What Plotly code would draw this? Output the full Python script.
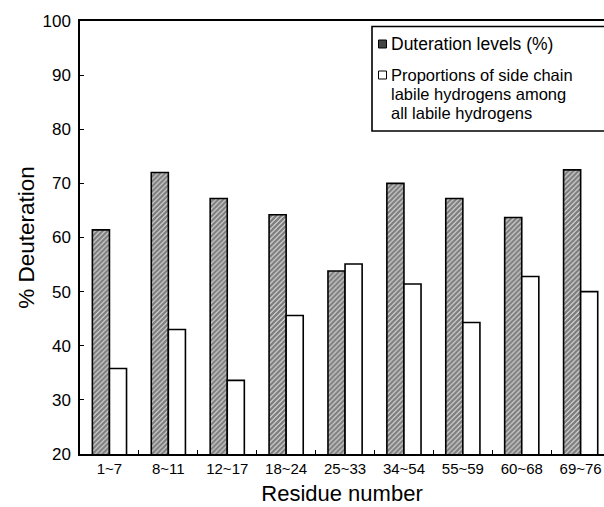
import plotly.graph_objects as go

categories = ["1~7", "8~11", "12~17", "18~24", "25~33", "34~54", "55~59", "60~68", "69~76"]
deuteration = [61.4, 72.0, 67.2, 64.2, 53.8, 70.0, 67.2, 63.7, 72.5]
side_chain = [35.8, 43.0, 33.6, 45.6, 55.1, 51.4, 44.3, 52.8, 50.0]
y_ticks = [20, 30, 40, 50, 60, 70, 80, 90, 100]
legend_labels = ["Duteration levels (%)",
                 ["Proportions of side chain", "labile hydrogens among", "all labile hydrogens"]]

W, H = 604, 507
L, R, T, B = 80, 0, 21, 53
pw, ph = W - L - R, H - T - B
FONT = "Arial, Liberation Sans, sans-serif"

def px(x):
    return (x - L) / pw

def py(y):
    return (H - B - y) / ph

fig = go.Figure()
fig.add_trace(go.Bar(
    x=categories, y=deuteration, name=legend_labels[0],
    marker=dict(color="white", line=dict(color="black", width=1.6),
                pattern=dict(shape="/", fgcolor="black", bgcolor="white", size=3.5, solidity=0.78)),
))
fig.add_trace(go.Bar(
    x=categories, y=side_chain, name=legend_labels[1][0],
    marker=dict(color="white", line=dict(color="black", width=1.6)),
))

# category spacing ~58.9px; plot cut off at right edge
cat_px = 58.9
xmax = (W - L) / cat_px - 0.5

fig.update_layout(
    width=W, height=H,
    margin=dict(l=L, r=R, t=T, b=B),
    paper_bgcolor="white", plot_bgcolor="white",
    barmode="group", bargap=0.42, bargroupgap=0,
    showlegend=False,
    font=dict(family=FONT, color="black"),
    xaxis=dict(
        range=[-0.5, xmax], showline=True, linecolor="black", linewidth=1.5, mirror=True,
        ticks="inside", tickson="boundaries", ticklen=4, tickcolor="black", tickwidth=1.2,
        tickfont=dict(size=15, family=FONT), showgrid=False, zeroline=False,
        title=dict(text="Residue number", font=dict(size=22, family=FONT), standoff=10),
    ),
    yaxis=dict(
        range=[20, 100], tickvals=y_ticks, showline=True, linecolor="black", linewidth=1.5,
        ticks="inside", ticklen=4, tickcolor="black", tickwidth=1.2,
        tickfont=dict(size=17, family=FONT), showgrid=False, zeroline=False,
        ticklabelstandoff=4,
        title=dict(text="% Deuteration", font=dict(size=22.5, family=FONT), standoff=2),
    ),
)

# custom legend box (extends past right edge like the reference)
fig.add_shape(type="rect", xref="paper", yref="paper",
              x0=px(372), x1=px(640), y0=py(131), y1=py(26.5),
              line=dict(color="black", width=1.6), fillcolor="white", layer="above")
fig.add_shape(type="rect", xref="paper", yref="paper",
              x0=px(378.5), x1=px(386.5), y0=py(48), y1=py(40),
              line=dict(color="black", width=1), fillcolor="#444", layer="above")
fig.add_shape(type="rect", xref="paper", yref="paper",
              x0=px(378.5), x1=px(386.5), y0=py(79), y1=py(71),
              line=dict(color="black", width=1), fillcolor="white", layer="above")
fig.add_annotation(xref="paper", yref="paper", x=px(390), y=py(44), text=legend_labels[0],
                   showarrow=False, xanchor="left", yanchor="middle", borderpad=0,
                   font=dict(size=17.5, family=FONT, color="black"))
for i, line in enumerate(legend_labels[1]):
    fig.add_annotation(xref="paper", yref="paper", x=px(390), y=py(75 + 19 * i), text=line,
                       showarrow=False, xanchor="left", yanchor="middle", borderpad=0,
                       font=dict(size=16.5, family=FONT, color="black"))

fig.write_html("out.html")
